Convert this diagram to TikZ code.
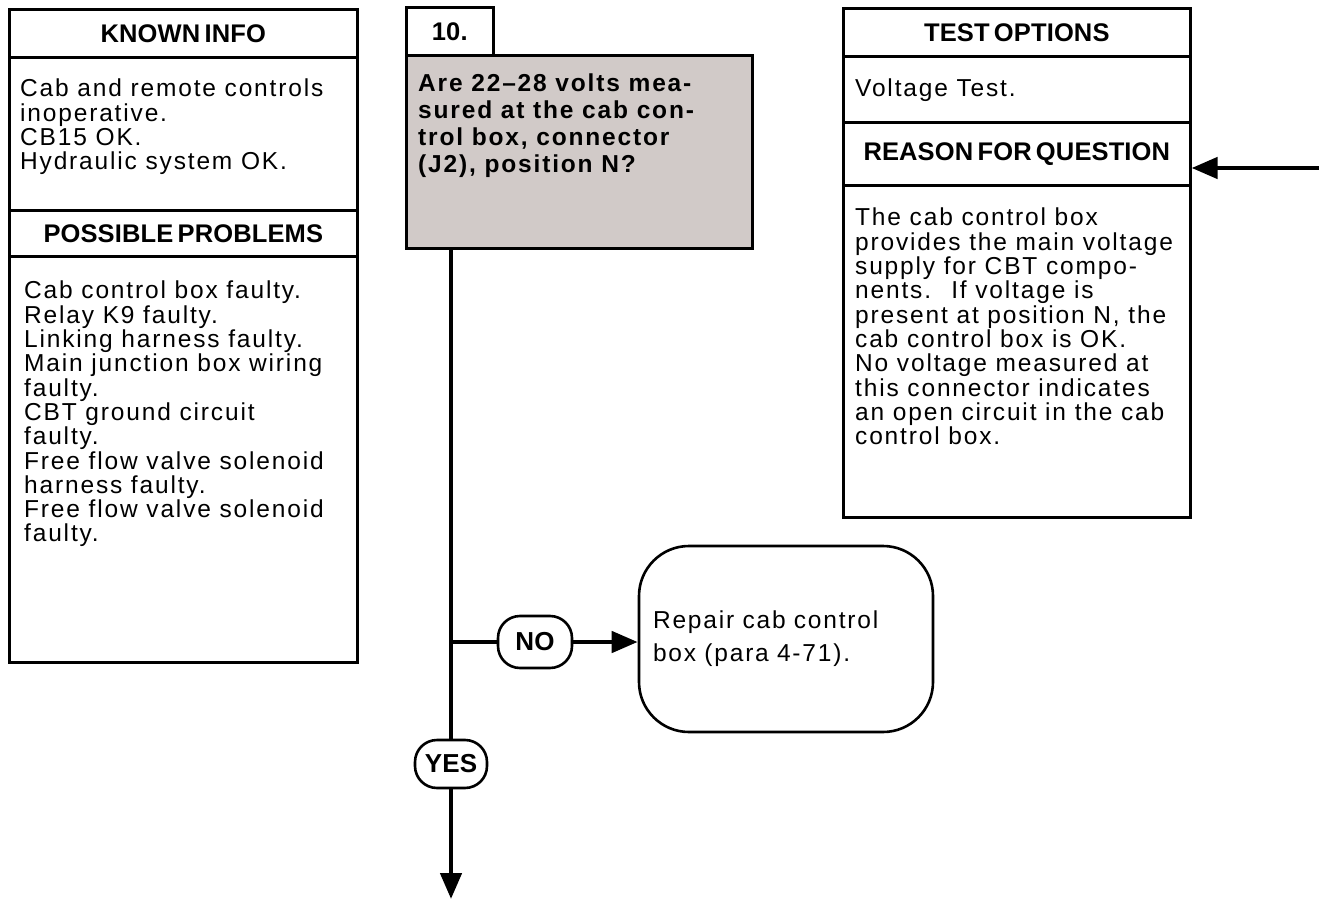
\documentclass[tikz,border=0pt]{standalone}
\usepackage{fontspec}
\setmainfont{Liberation Sans}
\newfontfamily\bodyf[LetterSpace=7.5]{Liberation Sans}
\newfontfamily\headf[LetterSpace=0.5,WordSpace=0.6]{Liberation Sans}
\usetikzlibrary{arrows.meta}
\definecolor{qgray}{RGB}{209,202,200}
\begin{document}
\begin{tikzpicture}[x=1pt,y=-1pt,
  frame/.style={draw, line width=2.6pt, inner sep=0pt, anchor=north west},
  hdr/.style={font=\headf\bfseries\fontsize{25.5}{26}\selectfont},
  txt/.style={font=\bodyf\fontsize{24.5}{24.3}\selectfont, align=left, anchor=north west, inner sep=0pt},
  qtxt/.style={font=\bodyf\bfseries\fontsize{24.5}{26.7}\selectfont, align=left, anchor=north west, inner sep=0pt},
  flow/.style={line width=4.6pt},
  oval/.style={draw, line width=2.6pt, fill=white, rounded corners=22pt, inner sep=0pt, font=\headf\bfseries\fontsize{26}{26}\selectfont},
  tip/.style={-{Triangle[length=26pt,width=21pt]}}
]
\useasboundingbox (0,0) rectangle (1319,901);

% left column
\node[frame, minimum width=348pt, minimum height=48pt, hdr] (kh) at (8,8) {KNOWN INFO};
\node[frame, minimum width=348pt, minimum height=153pt] (kb) at (8,56) {};
\node[frame, minimum width=348pt, minimum height=46pt, hdr] (ph) at (8,209) {POSSIBLE PROBLEMS};
\node[frame, minimum width=348pt, minimum height=406pt] (pb) at (8,255) {};
\node[txt] (kt) at (20,79) {Cab and remote controls\\inoperative.\\CB15 OK.\\Hydraulic system OK.};
\node[txt] (pt) at (24,281) {Cab control box faulty.\\Relay K9 faulty.\\Linking harness faulty.\\Main junction box wiring\\faulty.\\CBT ground circuit\\faulty.\\Free flow valve solenoid\\harness faulty.\\Free flow valve solenoid\\faulty.};

% question
\node[frame, minimum width=87pt, minimum height=48pt, hdr] (qn) at (405,6) {10.};
\node[frame, fill=qgray, minimum width=346pt, minimum height=193pt] (q) at (405,54) {};
\node[qtxt] (qt) at (418,74) {Are 22–28 volts mea-\\sured at the cab con-\\trol box, connector\\(J2), position N?};

% right column
\node[frame, minimum width=347pt, minimum height=48pt, hdr] (th) at (842,7) {TEST OPTIONS};
\node[frame, minimum width=347pt, minimum height=66pt] (tb) at (842,55) {};
\node[frame, minimum width=347pt, minimum height=63pt, hdr] (rh) at (842,121) {REASON FOR QUESTION};
\node[frame, minimum width=347pt, minimum height=332pt] (rb) at (842,184) {};
\node[txt] (tt) at (855,79) {Voltage Test.};
\node[txt] (rt) at (855,208) {The cab control box\\provides the main voltage\\supply for CBT compo-\\nents.~ If voltage is\\present at position N, the\\cab control box is OK.\\No voltage measured at\\this connector indicates\\an open circuit in the cab\\control box.};

% outcome box
\node[draw, line width=2.6pt, rounded corners=50pt, minimum width=294pt, minimum height=186pt,
      text width=266pt, inner sep=14pt, align=left, font=\bodyf\fontsize{24.5}{33}\selectfont] (rep) at (786,639)
      {Repair cab control\\box (para 4-71).};

% ovals
\node[oval, minimum width=74pt, minimum height=52pt] (no) at (535,642) {NO};
\node[oval, minimum width=72pt, minimum height=48pt] (ye) at (451,764) {YES};
\coordinate (endpt) at (451,899);
\coordinate (rin) at (1319,168);

% connectors
\draw[flow] (q.south -| ye) -- (ye.north);
\draw[flow, tip] (ye.south) -- (endpt);
\draw[flow] (ye.north |- no) -- (no.west);
\draw[flow, tip] (no.east) -- (no.east -| rep.west);
\draw[flow, tip] (rin) -- (rin -| rh.east);
\end{tikzpicture}
\end{document}
